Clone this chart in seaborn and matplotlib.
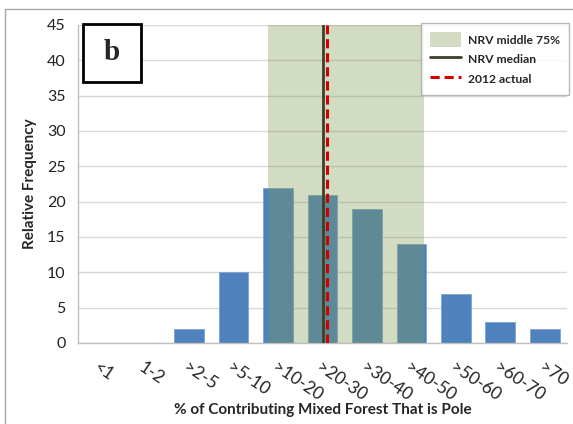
import matplotlib
matplotlib.use("Agg")
import matplotlib.pyplot as plt
import matplotlib.patches as mpatches
from matplotlib.lines import Line2D
import seaborn as sns
import pandas as pd
import numpy as np

# Histogram of % contributing mixed forest that is pole
categories = ["<1", "1-2", ">2-5", ">5-10", ">10-20", ">20-30", ">30-40",
              ">40-50", ">50-60", ">60-70", ">70"]
frequency = [0, 0, 2, 10, 22, 21, 19, 14, 7, 3, 2]

# NRV band and reference lines, in category-axis units
nrv_low = 3.78
nrv_high = 7.29
nrv_median = 5.02
actual_2012 = 5.11

df = pd.DataFrame({"cat": categories, "freq": frequency})

sns.set_style("white")
plt.rcParams['font.family'] = ['Lato', 'DejaVu Sans']

fig = plt.figure(figsize=(5.73, 4.24), dpi=100)
ax = fig.add_axes([78 / 573, 1 - 343 / 424, 489 / 573, 318 / 424])

sns.barplot(data=df, x="cat", y="freq", color="#4F81BD", saturation=1,
            width=0.67, ax=ax, zorder=2, edgecolor="#7FA3D3", linewidth=0.6)

# NRV middle 75% band
ax.axvspan(nrv_low, nrv_high, color=(0.49, 0.60, 0.30), alpha=0.34,
           lw=0, zorder=3)
ax.axvline(nrv_median, color="#3F3F26", lw=2, zorder=4)
ax.axvline(actual_2012, color="#D00000", lw=2.2, ls=(0, (3, 1.6)), zorder=5)

ax.set_xlim(-0.5, len(categories) - 0.5)
ax.set_ylim(0, 45)
ax.set_yticks(np.arange(0, 46, 5))
ax.yaxis.grid(True, color="#D9D9D9", lw=1)
ax.set_axisbelow(True)

for side in ["top", "right"]:
    ax.spines[side].set_visible(False)
for side in ["left", "bottom"]:
    ax.spines[side].set_color("#BFBFBF")
    ax.spines[side].set_linewidth(1)

ax.set_xticks(np.arange(len(categories)))
ax.set_xticklabels(categories, rotation=-34, ha="left", va="top",
                   rotation_mode="anchor", fontsize=12.5, color="#222222")
ax.set_xticks(np.arange(-0.5, len(categories), 1), minor=True)
ax.tick_params(axis="x", which="major", length=0, pad=12)
ax.tick_params(axis="x", which="minor", length=5, color="#BFBFBF", width=1,
               direction="out")
ax.tick_params(axis="y", length=5, color="#BFBFBF", width=1, direction="out",
               labelsize=11.5, labelcolor="#222222", pad=4)

ax.set_xlabel("")
ax.set_ylabel("Relative Frequency", fontsize=11, fontweight="bold",
              labelpad=7)
fig.text(323 / 573, 1 - 410 / 424, "% of Contributing Mixed Forest That is Pole",
         ha="center", va="center", fontsize=11, fontweight="bold")

# legend
handles = [
    mpatches.Patch(facecolor="#D3DCC2", edgecolor="none", label="NRV middle 75%"),
    Line2D([0], [0], color="#3F3F26", lw=2, label="NRV median"),
    Line2D([0], [0], color="#D00000", lw=2.2, ls=(0, (3, 1.6)), label="2012 actual"),
]
leg = ax.legend(handles=handles, loc="upper right", bbox_to_anchor=(1.004, 1.005),
                frameon=True, fancybox=False, prop={"weight": "bold", "size": 8.7},
                handlelength=2.6, handleheight=1.6, borderpad=0.7,
                labelspacing=0.35, handletextpad=0.6, borderaxespad=0)
leg.get_frame().set_edgecolor("#A6A6A6")
leg.get_frame().set_linewidth(1)
leg.set_zorder(10)

# panel letter box
fig.patches.append(mpatches.Rectangle((83 / 573, 1 - 82 / 424), 58 / 573, 58 / 424,
                                      transform=fig.transFigure, facecolor="white",
                                      edgecolor="black", lw=2, zorder=20))
fig.text(112 / 573, 1 - 53 / 424, "b", ha="center", va="center", fontsize=21,
         fontweight="bold", family=["Liberation Serif", "DejaVu Serif"], zorder=21)

# outer chart border
fig.patches.append(mpatches.Rectangle((5 / 573, -0.05), 1.0, 1 - 9 / 424 + 0.05,
                                      transform=fig.transFigure, fill=False,
                                      edgecolor="#A6A6A6", lw=1, zorder=0))

fig.savefig("out.png", dpi=100)
